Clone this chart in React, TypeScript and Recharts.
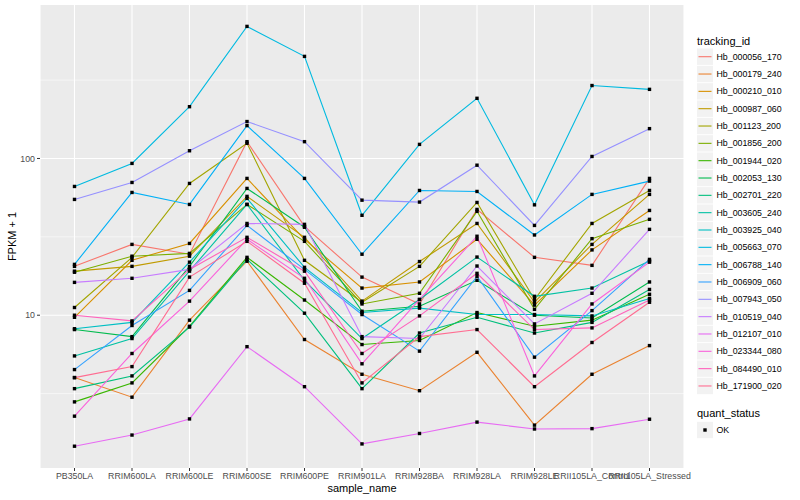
import React from 'react';
import { LineChart, Line, XAxis, YAxis, CartesianGrid } from 'recharts';

const categories = [
  'PB350LA', 'RRIM600LA', 'RRIM600LE', 'RRIM600SE', 'RRIM600PE', 'RRIM901LA',
  'RRIM928BA', 'RRIM928LA', 'RRIM928LE', 'RRII105LA_Control', 'RRII105LA_Stressed',
];

const hb_000056_170 = [20.5, 28.3, 24.5, 128, 36.9, 17.5, 11.8, 47.3, 23.4, 20.8, 74.6];
const hb_000179_240 = [4.0, 3.0, 9.3, 22.1, 7.0, 4.2, 3.3, 5.8, 1.99, 4.2, 6.4];
const hb_000210_010 = [9.7, 22.4, 28.7, 74.6, 30.5, 14.9, 16.3, 30.5, 11.6, 26.1, 46.6];
const hb_000987_060 = [19.1, 20.5, 23.8, 57.3, 31.4, 12.3, 22.0, 38.5, 12.1, 28.3, 59.0];
const hb_001123_200 = [11.2, 23.4, 69.3, 125, 22.4, 12.1, 20.5, 52.4, 12.6, 38.5, 62.5];
const hb_001856_200 = [18.8, 23.8, 24.8, 50.9, 29.6, 11.8, 13.8, 46.0, 10.9, 30.8, 40.9];
const hb_001944_020 = [2.8, 3.7, 8.5, 23.4, 12.5, 6.5, 6.9, 10.4, 8.5, 9.3, 13.6];
const hb_002053_130 = [8.1, 7.3, 20.5, 64.4, 36.4, 10.6, 11.4, 16.7, 10.0, 9.6, 16.3];
const hb_002701_220 = [3.4, 4.1, 8.4, 22.7, 10.3, 3.4, 7.7, 9.7, 7.7, 9.0, 14.6];
const hb_003605_240 = [5.5, 7.1, 19.1, 50.9, 16.7, 7.1, 12.6, 23.5, 13.2, 14.9, 22.2];
const hb_003925_040 = [8.2, 9.0, 21.8, 55.6, 20.2, 10.4, 11.1, 10.1, 10.1, 9.9, 12.8];
const hb_005663_070 = [66.3, 93, 214, 696, 448, 43.4, 123, 242, 50.6, 292, 276];
const hb_006788_140 = [21.1, 60.7, 50.9, 162, 74.6, 24.5, 62.5, 61.6, 32.5, 59.0, 71.7];
const hb_006909_060 = [4.5, 8.6, 14.4, 37.4, 19.6, 10.1, 5.9, 17.7, 5.4, 10.7, 22.7];
const hb_007943_050 = [54.8, 70.3, 112, 172, 128, 54.2, 52.7, 90.6, 37.4, 103, 155];
const hb_010519_040 = [16.2, 17.2, 19.6, 38.5, 38.0, 7.3, 7.1, 20.6, 8.8, 13.8, 35.3];
const hb_012107_010 = [1.46, 1.72, 2.18, 6.3, 3.5, 1.51, 1.76, 2.08, 1.88, 1.89, 2.17];
const hb_023344_080 = [2.27, 5.7, 12.3, 30.5, 17.2, 4.9, 12.6, 31.9, 4.1, 11.8, 21.8];
const hb_084490_010 = [10.0, 9.2, 19.6, 31.4, 19.1, 5.7, 9.9, 18.5, 8.1, 8.3, 12.5];
const hb_171900_020 = [4.0, 4.7, 17.5, 29.6, 16.0, 3.7, 7.3, 8.1, 3.5, 6.7, 12.1];

const seriesNames = [
  'Hb_000056_170', 'Hb_000179_240', 'Hb_000210_010', 'Hb_000987_060', 'Hb_001123_200',
  'Hb_001856_200', 'Hb_001944_020', 'Hb_002053_130', 'Hb_002701_220', 'Hb_003605_240',
  'Hb_003925_040', 'Hb_005663_070', 'Hb_006788_140', 'Hb_006909_060', 'Hb_007943_050',
  'Hb_010519_040', 'Hb_012107_010', 'Hb_023344_080', 'Hb_084490_010', 'Hb_171900_020',
];

const seriesValues = [
  hb_000056_170, hb_000179_240, hb_000210_010, hb_000987_060, hb_001123_200,
  hb_001856_200, hb_001944_020, hb_002053_130, hb_002701_220, hb_003605_240,
  hb_003925_040, hb_005663_070, hb_006788_140, hb_006909_060, hb_007943_050,
  hb_010519_040, hb_012107_010, hb_023344_080, hb_084490_010, hb_171900_020,
];

const seriesColors = [
  '#F8766D', '#EA8331', '#D89000', '#C09B00', '#A3A500', '#7CAE00', '#39B600', '#00BB4E',
  '#00BF7D', '#00C1A3', '#00BFC4', '#00BAE0', '#00B0F6', '#35A2FF', '#9590FF', '#C77CFF',
  '#E76BF3', '#FA62DB', '#FF62BC', '#FF6C91',
];

const yTicks = [10, 100];
const yMinorGrid = [3.162, 31.62, 316.2];
const yDomain = [1.06, 953];
const statusLabels = ['OK'];

const rows = categories.map((c, i) => {
  const r: any = { sample_name: c };
  seriesValues.forEach((vals, j) => {
    r['s' + j] = vals[i];
  });
  return r;
});

const FONT = '"Liberation Sans", Arial, Helvetica, sans-serif';

const SquareDot = (props: any) => {
  const { cx, cy, index, dataKey } = props;
  const k = `${dataKey}-${index}`;
  if (cx == null || cy == null || isNaN(cx) || isNaN(cy)) return <g key={k} />;
  return <rect key={k} x={cx - 1.7} y={cy - 1.7} width={3.4} height={3.4} fill="#000" />;
};

export default function App() {
  return (
    <div style={{ position: 'absolute', left: 0, top: 0, width: 800, height: 500, background: '#fff' }}>
      <LineChart
        width={800}
        height={500}
        data={rows}
        margin={{ top: 5, right: 116, bottom: 0, left: 0 }}
      >
        <CartesianGrid
          fill="#EBEBEB"
          horizontal={true}
          vertical={false}
          horizontalValues={yMinorGrid}
          stroke="#FFFFFF"
          strokeWidth={0.55}
        />
        <CartesianGrid
          horizontal={true}
          vertical={true}
          horizontalValues={yTicks}
          stroke="#FFFFFF"
          strokeWidth={1.1}
          fillOpacity={0}
        />
        <XAxis
          dataKey="sample_name"
          scale="point"
          padding={{ left: 34.5, right: 34.5 }}
          interval={0}
          height={32}
          axisLine={false}
          tickSize={3}
          tickMargin={2}
          tickLine={{ stroke: '#333333', strokeWidth: 1 }}
          tick={{ fontSize: 8.8, fill: '#4D4D4D', fontFamily: FONT }}
        />
        <YAxis
          type="number"
          scale="log"
          domain={yDomain}
          allowDataOverflow
          ticks={yTicks}
          width={40}
          axisLine={false}
          tickSize={3}
          tickMargin={2}
          tickLine={{ stroke: '#333333', strokeWidth: 1 }}
          tick={{ fontSize: 8.8, fill: '#4D4D4D', fontFamily: FONT }}
        />
        {seriesNames.map((n, j) => (
          <Line
            key={'l' + j}
            name={n}
            dataKey={'s' + j}
            type="linear"
            stroke={seriesColors[j]}
            strokeWidth={1.1}
            dot={false}
            activeDot={false}
            isAnimationActive={false}
          />
        ))}
        {seriesNames.map((n, j) => (
          <Line
            key={'p' + j}
            name={n + '_pts'}
            dataKey={'s' + j}
            type="linear"
            stroke="none"
            dot={SquareDot}
            activeDot={false}
            legendType="none"
            isAnimationActive={false}
          />
        ))}
      </LineChart>
      <svg
        width={800}
        height={500}
        style={{ position: 'absolute', left: 0, top: 0, pointerEvents: 'none' }}
        fontFamily={FONT}
      >
        <text x={12} y={236.5} fontSize={11} fill="#000" textAnchor="middle" dy="0.35em" transform="rotate(-90 12 236.5)">
          FPKM + 1
        </text>
        <text x={362} y={488} fontSize={11} fill="#000" textAnchor="middle" dy="0.35em">
          sample_name
        </text>
        <text x={697} y={40.7} fontSize={11} fill="#000" dy="0.35em">
          tracking_id
        </text>
        {seriesNames.map((n, i) => {
          const cy = 56.7 + i * 17.33;
          return (
            <g key={'lg' + i}>
              <rect x={697} y={cy - 8.2} width={16} height={16.4} fill="#F2F2F2" />
              <line x1={698.5} x2={711.5} y1={cy} y2={cy} stroke={seriesColors[i]} strokeWidth={1.1} />
              <text x={716.5} y={cy} fontSize={8.8} fill="#000" dy="0.35em">
                {n}
              </text>
            </g>
          );
        })}
        <text x={697} y={412.7} fontSize={11} fill="#000" dy="0.35em">
          quant_status
        </text>
        {statusLabels.map((s, i) => {
          const cy = 430 + i * 17.33;
          return (
            <g key={'qs' + i}>
              <rect x={697} y={cy - 8.2} width={16} height={16.4} fill="#F2F2F2" />
              <rect x={703.3} y={cy - 1.7} width={3.4} height={3.4} fill="#000" />
              <text x={716.5} y={cy} fontSize={8.8} fill="#000" dy="0.35em">
                {s}
              </text>
            </g>
          );
        })}
      </svg>
    </div>
  );
}
